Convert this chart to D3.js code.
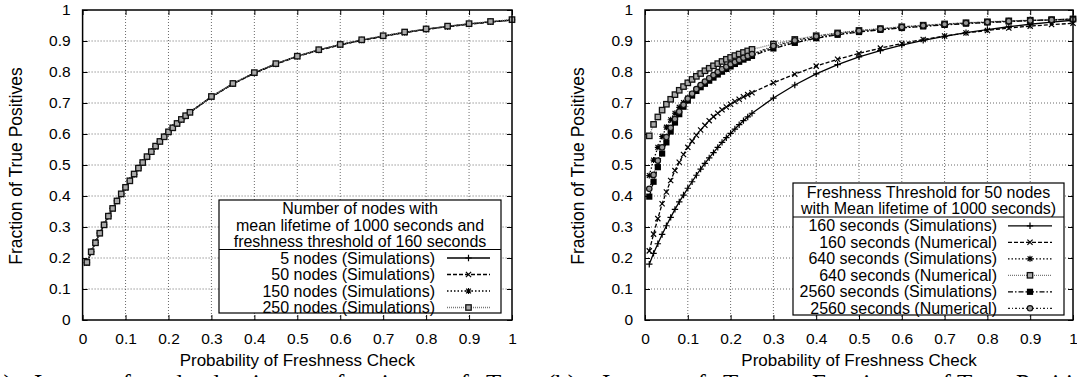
<!DOCTYPE html>
<html><head><meta charset="utf-8">
<script src="https://cdn.jsdelivr.net/npm/d3@7"></script>
<style>
html,body{margin:0;padding:0;background:#fff;}
svg{display:block;}
text{font-family:"Liberation Sans",Arial,Helvetica,sans-serif;fill:#000;}
.cap{font-family:"Liberation Serif","DejaVu Serif",serif;}
</style></head>
<body>
<svg id="c" width="1077" height="377"></svg>
<script>
// ---------- data ----------
const tickVals = [0,0.1,0.2,0.3,0.4,0.5,0.6,0.7,0.8,0.9,1];
const tickLabels = ["0","0.1","0.2","0.3","0.4","0.5","0.6","0.7","0.8","0.9","1"];
const probCheck = [0.01,0.02,0.03,0.04,0.05,0.06,0.07,0.08,0.09,0.10,0.11,0.12,0.13,0.14,0.15,0.16,0.17,0.18,0.19,0.20,0.21,0.22,0.23,0.24,0.25,0.30,0.35,0.40,0.45,0.50,0.55,0.60,0.65,0.70,0.75,0.80,0.85,0.90,0.95,1.00];

// Panel (a): number of nodes
const nodes5   = [0.185,0.220,0.250,0.280,0.307,0.335,0.360,0.384,0.406,0.428,0.449,0.470,0.490,0.508,0.526,0.543,0.560,0.576,0.591,0.606,0.620,0.633,0.646,0.658,0.670,0.720,0.762,0.797,0.826,0.851,0.871,0.888,0.903,0.916,0.928,0.938,0.947,0.955,0.962,0.968];
const nodes50  = [0.183,0.219,0.251,0.279,0.306,0.334,0.359,0.383,0.405,0.427,0.448,0.469,0.489,0.507,0.525,0.542,0.559,0.575,0.590,0.605,0.619,0.632,0.645,0.657,0.669,0.719,0.761,0.796,0.825,0.850,0.870,0.887,0.902,0.915,0.927,0.937,0.946,0.954,0.961,0.967];
const nodes150 = [0.184,0.221,0.250,0.281,0.308,0.336,0.361,0.385,0.406,0.429,0.450,0.470,0.491,0.509,0.526,0.544,0.560,0.577,0.592,0.606,0.621,0.633,0.646,0.658,0.671,0.720,0.762,0.797,0.826,0.851,0.871,0.888,0.903,0.916,0.928,0.938,0.947,0.955,0.962,0.968];
const nodes250 = [0.186,0.220,0.249,0.280,0.307,0.335,0.360,0.384,0.407,0.428,0.449,0.471,0.490,0.508,0.527,0.543,0.561,0.576,0.591,0.607,0.620,0.634,0.647,0.659,0.670,0.721,0.763,0.798,0.827,0.851,0.872,0.889,0.904,0.917,0.929,0.939,0.948,0.956,0.963,0.969];

// Panel (b): freshness threshold
const ts160Sim  = [0.180,0.215,0.246,0.276,0.304,0.331,0.357,0.381,0.403,0.425,0.446,0.467,0.487,0.505,0.523,0.540,0.557,0.573,0.588,0.602,0.616,0.630,0.643,0.655,0.667,0.716,0.758,0.794,0.824,0.849,0.869,0.887,0.902,0.915,0.927,0.937,0.946,0.954,0.961,0.967];
const ts160Num  = [0.223,0.277,0.327,0.375,0.413,0.450,0.482,0.509,0.534,0.557,0.577,0.596,0.613,0.628,0.643,0.656,0.667,0.678,0.687,0.696,0.705,0.712,0.720,0.727,0.733,0.765,0.793,0.819,0.841,0.860,0.877,0.892,0.905,0.916,0.926,0.934,0.942,0.948,0.953,0.957];
const ts640Sim  = [0.466,0.516,0.557,0.592,0.622,0.646,0.667,0.686,0.701,0.716,0.730,0.743,0.755,0.766,0.776,0.786,0.796,0.805,0.813,0.821,0.829,0.836,0.843,0.850,0.856,0.880,0.899,0.911,0.922,0.930,0.937,0.943,0.948,0.953,0.957,0.960,0.963,0.966,0.968,0.970];
const ts640Num  = [0.594,0.631,0.655,0.677,0.696,0.712,0.727,0.741,0.753,0.765,0.776,0.786,0.795,0.804,0.812,0.820,0.827,0.834,0.841,0.847,0.853,0.858,0.863,0.868,0.873,0.890,0.905,0.917,0.926,0.934,0.940,0.946,0.951,0.955,0.959,0.962,0.965,0.967,0.969,0.971];
const ts2560Sim = [0.398,0.446,0.493,0.537,0.573,0.608,0.637,0.664,0.688,0.708,0.724,0.739,0.751,0.762,0.772,0.782,0.792,0.801,0.810,0.818,0.826,0.833,0.840,0.846,0.852,0.876,0.894,0.909,0.920,0.929,0.936,0.942,0.947,0.952,0.956,0.960,0.963,0.966,0.968,0.971];
const ts2560Num = [0.423,0.468,0.514,0.557,0.590,0.620,0.648,0.672,0.694,0.714,0.730,0.745,0.758,0.769,0.780,0.790,0.800,0.809,0.817,0.825,0.832,0.839,0.846,0.852,0.858,0.884,0.902,0.915,0.925,0.933,0.939,0.945,0.950,0.954,0.958,0.961,0.964,0.966,0.968,0.970];

const legendA = ["5 nodes (Simulations)","50 nodes (Simulations)","150 nodes (Simulations)","250 nodes (Simulations)"];
const legendB = ["160 seconds (Simulations)","160 seconds (Numerical)","640 seconds (Simulations)","640 seconds (Numerical)","2560 seconds (Simulations)","2560 seconds (Numerical)"];
const titleA = ["Number of nodes with","mean lifetime of 1000 seconds and","freshness threshold of 160 seconds"];
const titleB = ["Freshness Threshold for 50 nodes","with Mean lifetime of 1000 seconds)"];
const xTitle = "Probability of Freshness Check";
const yTitle = "Fraction of True Positives";
const captionA = ["(a)","Impact","of","node","density","on","fraction","of","True"];
const captionB = ["(b)","Impact","of","T","on","Fraction","of","True","Positives"];

// ---------- styles ----------
const styles = {
  solid:   {stroke:"#000", dash:null, marker:"plus"},
  dashed:  {stroke:"#000", dash:"4,2", marker:"cross"},
  dotted:  {stroke:"#000", dash:"1.5,2", marker:"star"},
  grayDot: {stroke:"#777", dash:"1,1", marker:"osquare"},
  dashDot: {stroke:"#000", dash:"5,2,1.5,2", marker:"fsquare"},
  dashDotDot:{stroke:"#222", dash:"2,2,1,2", marker:"ocircle"}
};

const svg = d3.select("#c");
svg.append("rect").attr("width",1077).attr("height",377).attr("fill","#fff");

function marker(g, type, cx, cy){
  const s = g.append("g").attr("transform",`translate(${cx},${cy})`);
  if(type==="plus"){
    s.append("path").attr("d","M-3.2,0H3.2M0,-3.2V3.2").attr("stroke","#000").attr("stroke-width",1.2);
  } else if(type==="cross"){
    s.append("path").attr("d","M-2.6,-2.6L2.6,2.6M-2.6,2.6L2.6,-2.6").attr("stroke","#000").attr("stroke-width",1.2);
  } else if(type==="star"){
    s.append("path").attr("d","M-3,0H3M0,-3V3M-2.4,-2.4L2.4,2.4M-2.4,2.4L2.4,-2.4").attr("stroke","#000").attr("stroke-width",1.2);
  } else if(type==="osquare"){
    s.append("rect").attr("x",-2.7).attr("y",-2.7).attr("width",5.4).attr("height",5.4).attr("fill","#aaa").attr("stroke","#111").attr("stroke-width",1.3);
  } else if(type==="fsquare"){
    s.append("rect").attr("x",-3.1).attr("y",-3.1).attr("width",6.2).attr("height",6.2).attr("fill","#000");
  } else if(type==="ocircle"){
    s.append("circle").attr("r",2.7).attr("fill","#999").attr("stroke","#111").attr("stroke-width",1.2);
  }
}

function panel(opt){
  const x = d3.scaleLinear().domain([0,1]).range([opt.x0,opt.x1]);
  const y = d3.scaleLinear().domain([0,1]).range([320,10]);
  const g = svg.append("g");
  // grid
  const grid = g.append("g");
  tickVals.slice(1,-1).forEach(v=>{
    grid.append("line").attr("x1",x(v)).attr("x2",x(v)).attr("y1",y(0)).attr("y2",y(1))
      .attr("stroke","#444").attr("stroke-width",0.8).attr("stroke-dasharray","1,2");
    grid.append("line").attr("x1",x(0)).attr("x2",x(1)).attr("y1",y(v)).attr("y2",y(v))
      .attr("stroke","#444").attr("stroke-width",0.8).attr("stroke-dasharray","1,2");
  });
  // axes
  const fmt = d=>tickLabels[tickVals.indexOf(d)];
  g.append("g").attr("transform",`translate(0,320)`)
    .call(d3.axisBottom(x).tickValues(tickVals).tickFormat(fmt).tickSize(-5).tickPadding(13));
  g.append("g").attr("transform",`translate(${opt.x0},0)`)
    .call(d3.axisLeft(y).tickValues(tickVals).tickFormat(fmt).tickSize(-5).tickPadding(12));
  g.append("g").attr("transform",`translate(0,10)`)
    .call(d3.axisTop(x).tickValues(tickVals).tickFormat("").tickSize(-5));
  g.append("g").attr("transform",`translate(${opt.x1},0)`)
    .call(d3.axisRight(y).tickValues(tickVals).tickFormat("").tickSize(-5));
  g.selectAll(".domain").remove();
  g.selectAll(".tick line").attr("stroke","#000").attr("stroke-width",1);
  g.selectAll(".tick text").attr("font-size",15.5).attr("font-family","Liberation Sans, Arial, sans-serif").attr("fill","#000");
  // series
  const line = d3.line().x((d,i)=>x(probCheck[i])).y(d=>y(d));
  opt.series.forEach(s=>{
    const st = styles[s.style];
    g.append("path").attr("d",line(s.values)).attr("fill","none").attr("stroke",st.stroke)
      .attr("stroke-width",1.3).attr("stroke-dasharray",st.dash);
  });
  opt.series.forEach(s=>{
    const st = styles[s.style];
    const mg = g.append("g");
    s.values.forEach((v,i)=>marker(mg, st.marker, x(probCheck[i]), y(v)));
  });
  // legend
  const L = opt.legend;
  const lg = g.append("g");
  lg.append("rect").attr("x",L.x0).attr("y",L.y0).attr("width",L.x1-L.x0).attr("height",L.y1-L.y0)
    .attr("fill","#fff").attr("stroke","#000").attr("stroke-width",1.2);
  L.title.forEach((t,i)=>{
    lg.append("text").attr("x",(L.x0+L.x1)/2).attr("y",L.titleY[i]+5.6).attr("text-anchor","middle")
      .attr("font-size",16).text(t);
  });
  lg.append("line").attr("x1",L.x0).attr("x2",L.x1).attr("y1",L.sep).attr("y2",L.sep).attr("stroke","#000").attr("stroke-width",1.2);
  opt.series.forEach((s,i)=>{
    const cy = L.entry0 + i*L.step;
    const st = styles[s.style];
    lg.append("text").attr("x",L.textX).attr("y",cy+5.6).attr("text-anchor","end").attr("font-size",16).text(s.name);
    lg.append("line").attr("x1",L.s0).attr("x2",L.s1).attr("y1",cy).attr("y2",cy)
      .attr("stroke",st.stroke).attr("stroke-width",1.3).attr("stroke-dasharray",st.dash);
    marker(lg, st.marker, (L.s0+L.s1)/2, cy);
  });
  // frame
  g.append("rect").attr("x",opt.x0).attr("y",10).attr("width",opt.x1-opt.x0).attr("height",310)
    .attr("fill","none").attr("stroke","#000").attr("stroke-width",1.5);
  // titles
  g.append("text").attr("x",(opt.x0+opt.x1)/2).attr("y",366).attr("text-anchor","middle").attr("font-size",17).text(xTitle);
  g.append("text").attr("transform",`translate(${opt.yt},166) rotate(-90)`).attr("text-anchor","middle")
    .attr("dy","0.35em").attr("font-size",17.5).text(yTitle);
}

panel({
  x0:82.6, x1:512, yt:15.5,
  series:[
    {name:legendA[0], values:nodes5, style:"solid"},
    {name:legendA[1], values:nodes50, style:"dashed"},
    {name:legendA[2], values:nodes150, style:"dotted"},
    {name:legendA[3], values:nodes250, style:"grayDot"}
  ],
  legend:{x0:219,x1:501,y0:200,y1:313,title:titleA,titleY:[208,225,241.5],sep:249.5,
    entry0:258,step:16.5,textX:435,s0:447,s1:490}
});
panel({
  x0:645, x1:1073, yt:577.5,
  series:[
    {name:legendB[0], values:ts160Sim, style:"solid"},
    {name:legendB[1], values:ts160Num, style:"dashed"},
    {name:legendB[2], values:ts640Sim, style:"dotted"},
    {name:legendB[3], values:ts640Num, style:"grayDot"},
    {name:legendB[4], values:ts2560Sim, style:"dashDot"},
    {name:legendB[5], values:ts2560Num, style:"dashDotDot"}
  ],
  legend:{x0:793,x1:1064,y0:183,y1:315,title:titleB,titleY:[192,208.5],sep:217,
    entry0:225.8,step:16.5,textX:997,s0:1008,s1:1052}
});

// captions (only their top edge is visible, as in the reference)
const capAx = [-16,34,110,145,207,300,336,448,486];
const capBx = [547,602,685,723,765,812,930,957,1016];
const ca = svg.append("text").attr("class","cap").attr("y",392).attr("font-size",25);
captionA.forEach((w,i)=>ca.append("tspan").attr("x",capAx[i]).text(w));
const cb = svg.append("text").attr("class","cap").attr("y",392).attr("font-size",25);
captionB.forEach((w,i)=>{
  cb.append("tspan").attr("x",capBx[i]).attr("y",392).text(w);
  if(w==="T") cb.append("tspan").attr("font-size",17).attr("y",397).text("s");
});
</script>
</body></html>
